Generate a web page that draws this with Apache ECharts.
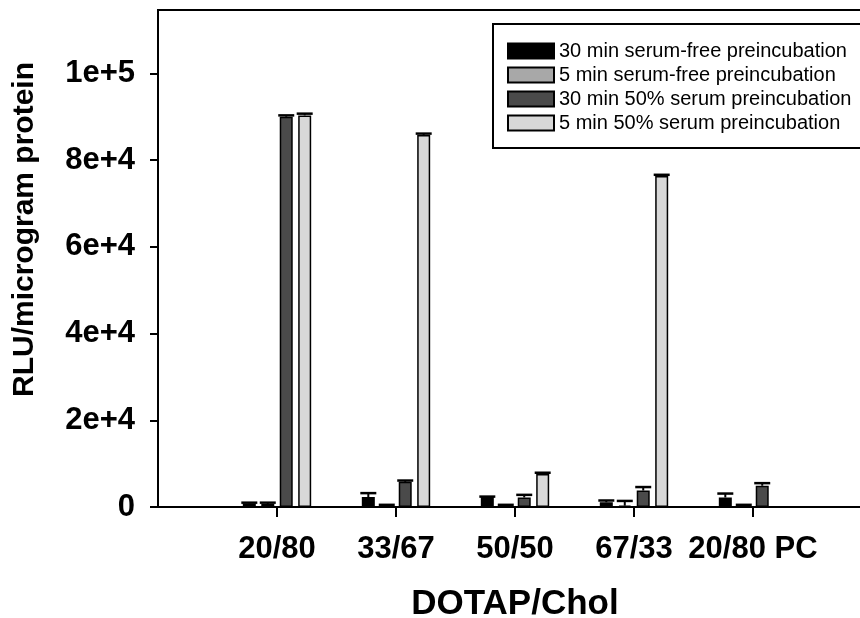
<!DOCTYPE html>
<html>
<head>
<meta charset="utf-8">
<script src="https://cdn.jsdelivr.net/npm/echarts@6/dist/echarts.min.js"></script>
<style>
  html, body { margin: 0; padding: 0; background: #fff; }
  #chart { width: 860px; height: 618px; }
</style>
</head>
<body>
<div id="chart"></div>
<script>
// ---- data ----
const categories = ['20/80', '33/67', '50/50', '67/33', '20/80 PC'];
const seriesNames = [
  '30 min serum-free preincubation',
  '5 min serum-free preincubation',
  '30 min 50% serum preincubation',
  '5 min 50% serum preincubation'
];
const serumFree30 = [800, 2300, 2300, 1100, 2200];
const serumFree30Err = [200, 900, 100, 400, 900];
const serumFree5 = [700, 400, 400, 300, 400];
const serumFree5Err = [300, 100, 100, 1100, 100];
const serum50_30 = [90000, 5800, 2200, 3800, 4900];
const serum50_30Err = [300, 300, 600, 800, 600];
const serum50_5 = [90300, 85800, 7600, 76300, 0];
const serum50_5Err = [400, 300, 300, 300, 0];
const yTickValues = [0, 20000, 40000, 60000, 80000, 100000];
const yTickLabels = ['0', '2e+4', '4e+4', '6e+4', '8e+4', '1e+5'];

// ---- styling ----
const colors = ['#000000', '#a8a8a8', '#4a4a4a', '#d8d8d8'];
const FONT = "'Liberation Sans', Arial, sans-serif";
const BAR_W = 13;
const BAR_GAP = 0.42;
const PITCH = BAR_W * (1 + BAR_GAP);

// pad the category axis with an empty slot on both ends
const xData = [''].concat(categories, ['']);
const pad = arr => [null].concat(arr, [null]);

const values = [serumFree30, serumFree5, serum50_30, serum50_5];
const errors = [serumFree30Err, serumFree5Err, serum50_30Err, serum50_5Err];

const series = [];
values.forEach((vals, i) => {
  series.push({
    name: seriesNames[i],
    type: 'bar',
    data: pad(vals),
    barWidth: BAR_W,
    barGap: (BAR_GAP * 100) + '%',
    itemStyle: { color: colors[i], borderColor: '#000', borderWidth: 1.5 },
    emphasis: { disabled: true },
    z: 2
  });
});
values.forEach((vals, i) => {
  const offset = (i - 1.5) * PITCH;
  const data = [];
  vals.forEach((v, k) => {
    if (v > 0) data.push([k + 1, v, errors[i][k]]);
  });
  series.push({
    type: 'custom',
    name: seriesNames[i] + ' err',
    data: data,
    encode: { x: 0, y: 1 },
    z: 3,
    silent: true,
    renderItem: function (params, api) {
      const x = api.value(0), v = api.value(1), e = api.value(2);
      const p0 = api.coord([x, v]);
      const p1 = api.coord([x, v + e]);
      const cx = p0[0] + offset;
      const half = 8;
      return {
        type: 'group',
        children: [
          { type: 'line', shape: { x1: cx, y1: p0[1], x2: cx, y2: p1[1] },
            style: { stroke: '#000', lineWidth: 2 } },
          { type: 'line', shape: { x1: cx - half, y1: p1[1], x2: cx + half, y2: p1[1] },
            style: { stroke: '#000', lineWidth: 2.5 } }
        ]
      };
    }
  });
});

const chart = echarts.init(document.getElementById('chart'), null, { renderer: 'canvas' });
chart.setOption({
  backgroundColor: '#fff',
  animation: false,
  textStyle: { fontFamily: FONT },
  grid: {
    left: 158, top: 10, bottom: 111, right: -12,
    outerBoundsMode: 'none',
    containLabel: false,
    show: true, borderColor: '#000', borderWidth: 2, backgroundColor: 'transparent'
  },
  legend: {
    orient: 'vertical',
    left: 493, top: 24,
    padding: [15, 20, 13, 14],
    itemWidth: 46, itemHeight: 15, itemGap: 0,
    icon: 'rect',
    borderColor: '#000', borderWidth: 2, backgroundColor: '#fff',
    data: seriesNames,
    textStyle: { fontFamily: FONT, fontSize: 20, color: '#000', lineHeight: 24 },
    selectedMode: false
  },
  xAxis: {
    type: 'category',
    data: xData,
    boundaryGap: false,
    name: 'DOTAP/Chol',
    nameLocation: 'middle',
    nameGap: 80,
    nameTextStyle: { fontFamily: FONT, fontSize: 35, fontWeight: 'bold', color: '#000', lineHeight: 35 },
    axisLine: { lineStyle: { color: '#000', width: 2 } },
    axisTick: {
      show: true, length: 10, inside: false,
      interval: function (idx, val) { return val !== ''; },
      lineStyle: { color: '#000', width: 2 }
    },
    axisLabel: {
      interval: 0, margin: 27, color: '#000',
      fontFamily: FONT, fontSize: 31, fontWeight: 'bold', lineHeight: 31
    },
    splitLine: { show: false }
  },
  yAxis: {
    type: 'value',
    min: 0, max: 114600,
    name: 'RLU/microgram protein',
    nameLocation: 'middle',
    nameRotate: 90,
    nameGap: 118,
    nameTextStyle: { fontFamily: FONT, fontSize: 30, fontWeight: 'bold', color: '#000', padding: [0, 0, 0, 58] },
    axisLine: { show: true, lineStyle: { color: '#000', width: 2 } },
    axisTick: { show: true, length: 8, customValues: yTickValues, lineStyle: { color: '#000', width: 2 } },
    axisLabel: {
      customValues: yTickValues,
      margin: 23, color: '#000', fontFamily: FONT, fontSize: 31, fontWeight: 'bold',
      padding: [5, 0, 0, 0],
      formatter: function (v) {
        const i = yTickValues.indexOf(v);
        return i >= 0 ? yTickLabels[i] : '';
      }
    },
    splitLine: { show: false }
  },
  series: series
});
</script>
</body>
</html>
